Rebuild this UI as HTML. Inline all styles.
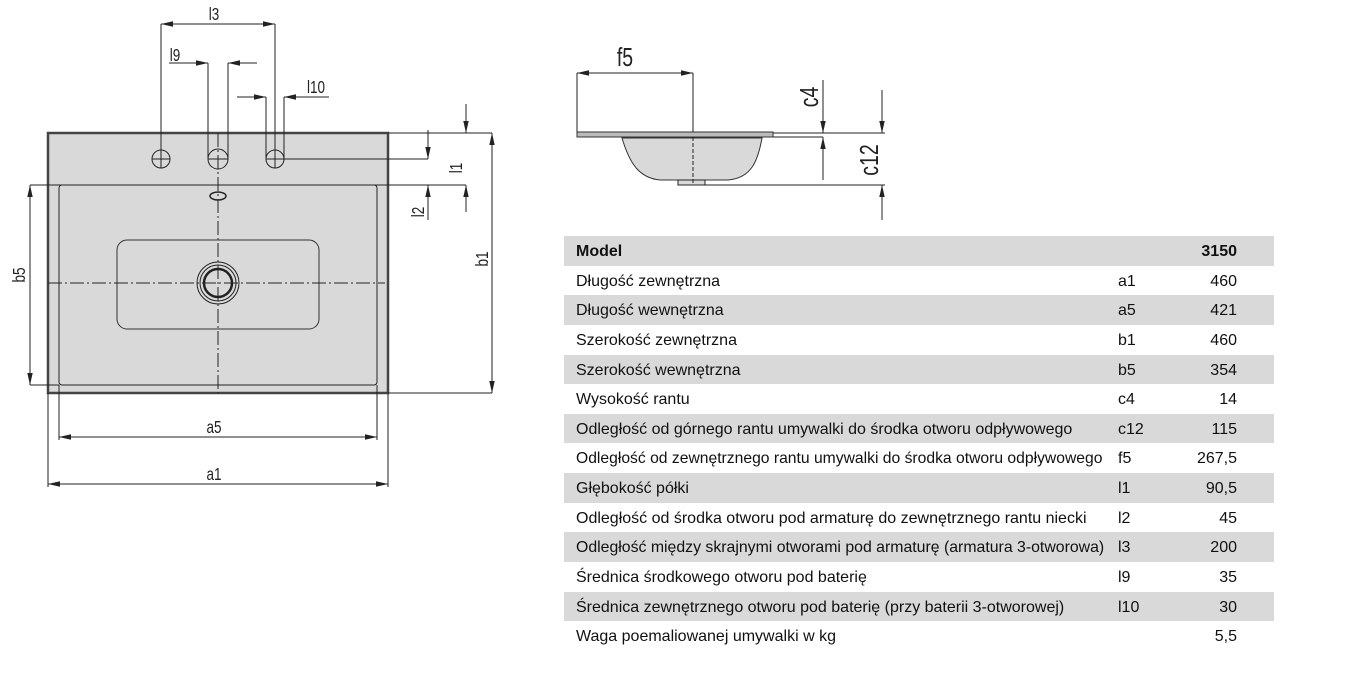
<!DOCTYPE html>
<html><head><meta charset="utf-8"><style>
body{margin:0;width:1366px;height:682px;background:#fff;overflow:hidden;position:relative;font-family:"Liberation Sans",sans-serif;}
svg{position:absolute;left:0;top:0}
.t{position:absolute;left:564px;top:236px;width:710px;}
.r{height:29.65px;position:relative;font-size:16px;color:#111;line-height:31px;}
.g{background:#d9d9d9}
.r span{position:absolute;transform-origin:0 50%;}
.a{left:12px}.c{left:554px}.v{right:37px}
</style></head><body>
<svg width="1366" height="682" viewBox="0 0 1366 682" font-family="Liberation Sans, sans-serif" font-size="16" fill="none" stroke="#222" stroke-width="1">
<defs><marker id="ar" markerWidth="12" markerHeight="6" refX="12" refY="3" orient="auto-start-reverse" markerUnits="userSpaceOnUse"><path d="M0,0.3 L12,3 L0,5.7z" fill="#222" stroke="none"/></marker></defs>
<rect x="48" y="133" width="340" height="260" fill="#d9d9d9" stroke="#444" stroke-width="2.5"/>
<rect x="59" y="185" width="318" height="200" rx="3" fill="#d9d9d9" stroke="#222"/>
<rect x="117" y="240" width="202" height="89" rx="10" stroke="#333"/>
<line x1="48" y1="283" x2="385" y2="283" stroke-dasharray="14,3,2,3"/>
<line x1="218" y1="133" x2="218" y2="393" stroke-dasharray="14,3,2,3"/>
<circle cx="218" cy="283" r="21"/><circle cx="218" cy="283" r="18"/><circle cx="218" cy="283" r="14" stroke-width="2.5"/>
<ellipse cx="218" cy="196" rx="8" ry="4" stroke-width="1.5"/>
<circle cx="161" cy="159" r="9"/><circle cx="218" cy="159" r="10"/><circle cx="275" cy="159" r="9"/>
<path d="M152 159h18M161 150v18M208 159h20M266 159h18M275 150v18"/>
<path d="M161 159V24M275 159V24M208 159V63M228 159V63M266 159V97M284 159V97"/>
<line x1="161" y1="24" x2="275" y2="24" marker-start="url(#ar)" marker-end="url(#ar)"/>
<line x1="169" y1="63" x2="208" y2="63" marker-end="url(#ar)"/><line x1="257" y1="63" x2="228" y2="63" marker-end="url(#ar)"/>
<line x1="237" y1="97" x2="266" y2="97" marker-end="url(#ar)"/><line x1="329" y1="97" x2="284" y2="97" marker-end="url(#ar)"/>
<path d="M388 133H492M30 185H466M284 159H428M388 393H492M30 385H59M59 385V440M377 385V440M48 393V487M388 393V487"/>
<line x1="466" y1="104" x2="466" y2="133" marker-end="url(#ar)"/><line x1="466" y1="212" x2="466" y2="185" marker-end="url(#ar)"/>
<line x1="428" y1="130" x2="428" y2="159" marker-end="url(#ar)"/><line x1="428" y1="220" x2="428" y2="185" marker-end="url(#ar)"/>
<line x1="492" y1="133" x2="492" y2="393" marker-start="url(#ar)" marker-end="url(#ar)"/>
<line x1="30" y1="185" x2="30" y2="385" marker-start="url(#ar)" marker-end="url(#ar)"/>
<line x1="59" y1="437" x2="377" y2="437" marker-start="url(#ar)" marker-end="url(#ar)"/>
<line x1="48" y1="484" x2="388" y2="484" marker-start="url(#ar)" marker-end="url(#ar)"/>
<g fill="#222" stroke="none" font-size="18">
<text transform="translate(214,20) scale(0.75,1)" text-anchor="middle">l3</text>
<text transform="translate(175,61) scale(0.75,1)" text-anchor="middle">l9</text>
<text transform="translate(316,93) scale(0.75,1)" text-anchor="middle">l10</text>
<text transform="translate(214,433) scale(0.75,1)" text-anchor="middle">a5</text>
<text transform="translate(214,480) scale(0.75,1)" text-anchor="middle">a1</text>
<text transform="translate(462,168) rotate(-90) scale(0.75,1)" text-anchor="middle">l1</text>
<text transform="translate(424,212) rotate(-90) scale(0.75,1)" text-anchor="middle">l2</text>
<text transform="translate(488,259) rotate(-90) scale(0.75,1)" text-anchor="middle">b1</text>
<text transform="translate(25,275) rotate(-90) scale(0.75,1)" text-anchor="middle">b5</text>
</g>
<path d="M622 138 C630 165,640 178,660 180 L728 180 C752 178,758 160,762 138Z" fill="#d9d9d9" stroke="#333"/>
<rect x="678" y="180" width="27" height="5" fill="#d9d9d9"/>
<rect x="577" y="132" width="196" height="5" fill="#bbb" stroke="#333"/>
<path d="M773 133H885M773 137H823M705 185H885M577 132V73M693 73V132"/>
<line x1="693" y1="137" x2="693" y2="185" stroke-dasharray="4,2"/>
<line x1="577" y1="73" x2="693" y2="73" marker-start="url(#ar)" marker-end="url(#ar)"/>
<line x1="823" y1="80" x2="823" y2="133" marker-end="url(#ar)"/><line x1="823" y1="180" x2="823" y2="137" marker-end="url(#ar)"/>
<line x1="882" y1="90" x2="882" y2="133" marker-end="url(#ar)"/><line x1="882" y1="220" x2="882" y2="185" marker-end="url(#ar)"/>
<g fill="#222" stroke="none" font-size="26">
<text transform="translate(625,66) scale(0.75,1)" text-anchor="middle">f5</text>
<text transform="translate(818,97) rotate(-90) scale(0.75,1)" text-anchor="middle">c4</text>
<text transform="translate(878,160) rotate(-90) scale(0.75,1)" text-anchor="middle">c12</text>
</g>
</svg>
<div class="t">
<div class="r g" style="font-weight:bold"><span class="a">Model</span><span class="v">3150</span></div>
<div class="r"><span class="a">Długość zewnętrzna</span><span class="c">a1</span><span class="v">460</span></div>
<div class="r g"><span class="a">Długość wewnętrzna</span><span class="c">a5</span><span class="v">421</span></div>
<div class="r"><span class="a">Szerokość zewnętrzna</span><span class="c">b1</span><span class="v">460</span></div>
<div class="r g"><span class="a">Szerokość wewnętrzna</span><span class="c">b5</span><span class="v">354</span></div>
<div class="r"><span class="a">Wysokość rantu</span><span class="c">c4</span><span class="v">14</span></div>
<div class="r g"><span class="a">Odległość od górnego rantu umywalki do środka otworu odpływowego</span><span class="c">c12</span><span class="v">115</span></div>
<div class="r"><span class="a" style="transform:scaleX(0.98)">Odległość od zewnętrznego rantu umywalki do środka otworu odpływowego</span><span class="c">f5</span><span class="v">267,5</span></div>
<div class="r g"><span class="a">Głębokość półki</span><span class="c">l1</span><span class="v">90,5</span></div>
<div class="r"><span class="a">Odległość od środka otworu pod armaturę do zewnętrznego rantu niecki</span><span class="c">l2</span><span class="v">45</span></div>
<div class="r g"><span class="a" style="transform:scaleX(0.99)">Odległość między skrajnymi otworami pod armaturę (armatura 3-otworowa)</span><span class="c">l3</span><span class="v">200</span></div>
<div class="r"><span class="a">Średnica środkowego otworu pod baterię</span><span class="c">l9</span><span class="v">35</span></div>
<div class="r g"><span class="a">Średnica zewnętrznego otworu pod baterię (przy baterii 3-otworowej)</span><span class="c">l10</span><span class="v">30</span></div>
<div class="r"><span class="a">Waga poemaliowanej umywalki w kg</span><span class="v">5,5</span></div>
</div>
</body></html>
